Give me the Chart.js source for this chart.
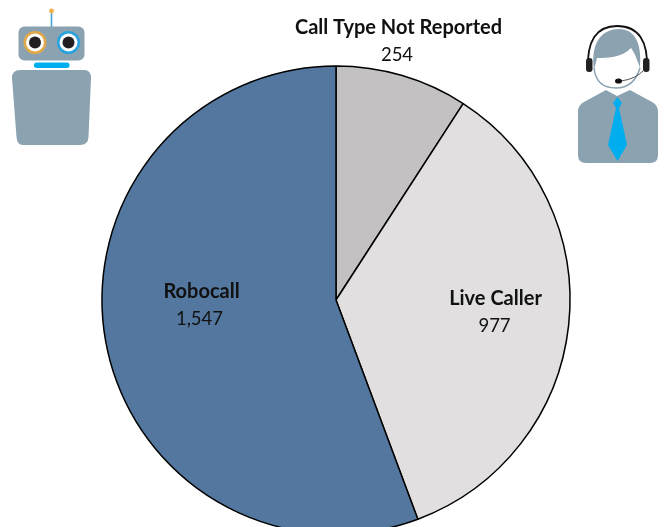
<!DOCTYPE html>
<html><head><meta charset="utf-8">
<style>
html,body{margin:0;padding:0;background:#fff;width:665px;height:527px;overflow:hidden}
canvas{position:absolute;left:0;top:0}
svg{position:absolute;left:0;top:0;z-index:2}
</style>
<script src="https://cdn.jsdelivr.net/npm/chart.js@4"></script>
</head><body>
<canvas id="c" width="672" height="600"></canvas>
<svg width="665" height="527" viewBox="0 0 665 527">
 <!-- robot -->
 <line x1="51.5" y1="12" x2="51.5" y2="27" stroke="#4aa3d8" stroke-width="1.6"/>
 <circle cx="51.5" cy="11" r="2.4" fill="#f4b04a"/>
 <rect x="18.5" y="26.5" width="66" height="34" rx="6" fill="#8ba2b1"/>
 <circle cx="35" cy="42.5" r="11.5" fill="#e0a84a"/><circle cx="35" cy="42.5" r="9" fill="#fff"/><circle cx="35" cy="42.5" r="6" fill="#231f20"/>
 <circle cx="68.5" cy="42.5" r="11.5" fill="#29a3dc"/><circle cx="68.5" cy="42.5" r="9" fill="#fff"/><circle cx="68.5" cy="42.5" r="6" fill="#231f20"/>
 <rect x="34" y="62.5" width="35.5" height="5.5" rx="2.7" fill="#00aeef"/>
 <path d="M20 70H84Q91 70 91 78L88.500 137Q88 145 80 145H23Q17 145 16.500 137L12 78Q12 70 20 70Z" fill="#8ba2b1"/>
 <!-- agent -->
 <path d="M588 70Q586 26 617 26Q649 26 647 70" fill="none" stroke="#111" stroke-width="1.8"/>
 <rect x="586" y="58" width="6.500" height="14" rx="3" fill="#222"/>
 <rect x="643" y="58" width="6.500" height="14" rx="3" fill="#222"/>
 <path d="M594 68Q596 88 616 88Q634 88 640 68" fill="#fff" stroke="#8ba2b1" stroke-width="1.500"/>
 <path d="M594 70C590 40 604 29 619 29C636 29 642 45 640 68C636 56 634 52 631 48C622 58 606 58 597 58Z" fill="#8ba2b1"/>
 <path d="M621 81Q636 79 644 70" fill="none" stroke="#555" stroke-width="1"/>
 <ellipse cx="618.500" cy="81" rx="3.500" ry="2.600" fill="#111"/>
 <path d="M606 90L617 96L630 90L652 102Q658 105 658 112V155Q658 163 650 163H586Q578 163 578 155V112Q578 105 584 102Z" fill="#8ba2b1"/>
 <path d="M617.500 97L622 103L619 108L627 145L617.500 161L608 145L616 108L613 103Z" fill="#00aeef"/>
</svg>
<script>
const categories = ["Call Type Not Reported", "Live Caller", "Robocall"];
const values = [254, 977, 1547];
const sliceColors = ["#C3C1C1", "#E1DFE0", "#54779F"];
const labelSpots = [[398.5,28,397,55],[495.5,299,494.5,326],[201.5,292,199.5,319]];
const textPlugin = {
  id: "sliceText",
  afterDatasetsDraw(chart){
    const ctx = chart.ctx;
    ctx.save();
    ctx.textAlign = "center";
    ctx.textBaseline = "middle";
    ctx.fillStyle = "#111";
    categories.forEach((name,i)=>{
      const s = labelSpots[i];
      ctx.font = "bold 20px Lato";
      ctx.fillText(name, s[0], s[1]);
      ctx.font = "18.5px Lato";
      ctx.fillText(values[i].toLocaleString("en-US"), s[2], s[3]);
    });
    ctx.restore();
  }
};
new Chart(document.getElementById("c"), {
  type: "pie",
  data: { labels: categories, datasets: [{ data: values, backgroundColor: sliceColors, borderColor: "#000", borderWidth: 1.5, borderAlign:"center", radius: 234 }] },
  options: { responsive:false, animation:false, layout:{padding:0},
    plugins:{ legend:{display:false}, tooltip:{enabled:false}, title:{display:false} } },
  plugins:[textPlugin]
});
</script>
</body></html>
